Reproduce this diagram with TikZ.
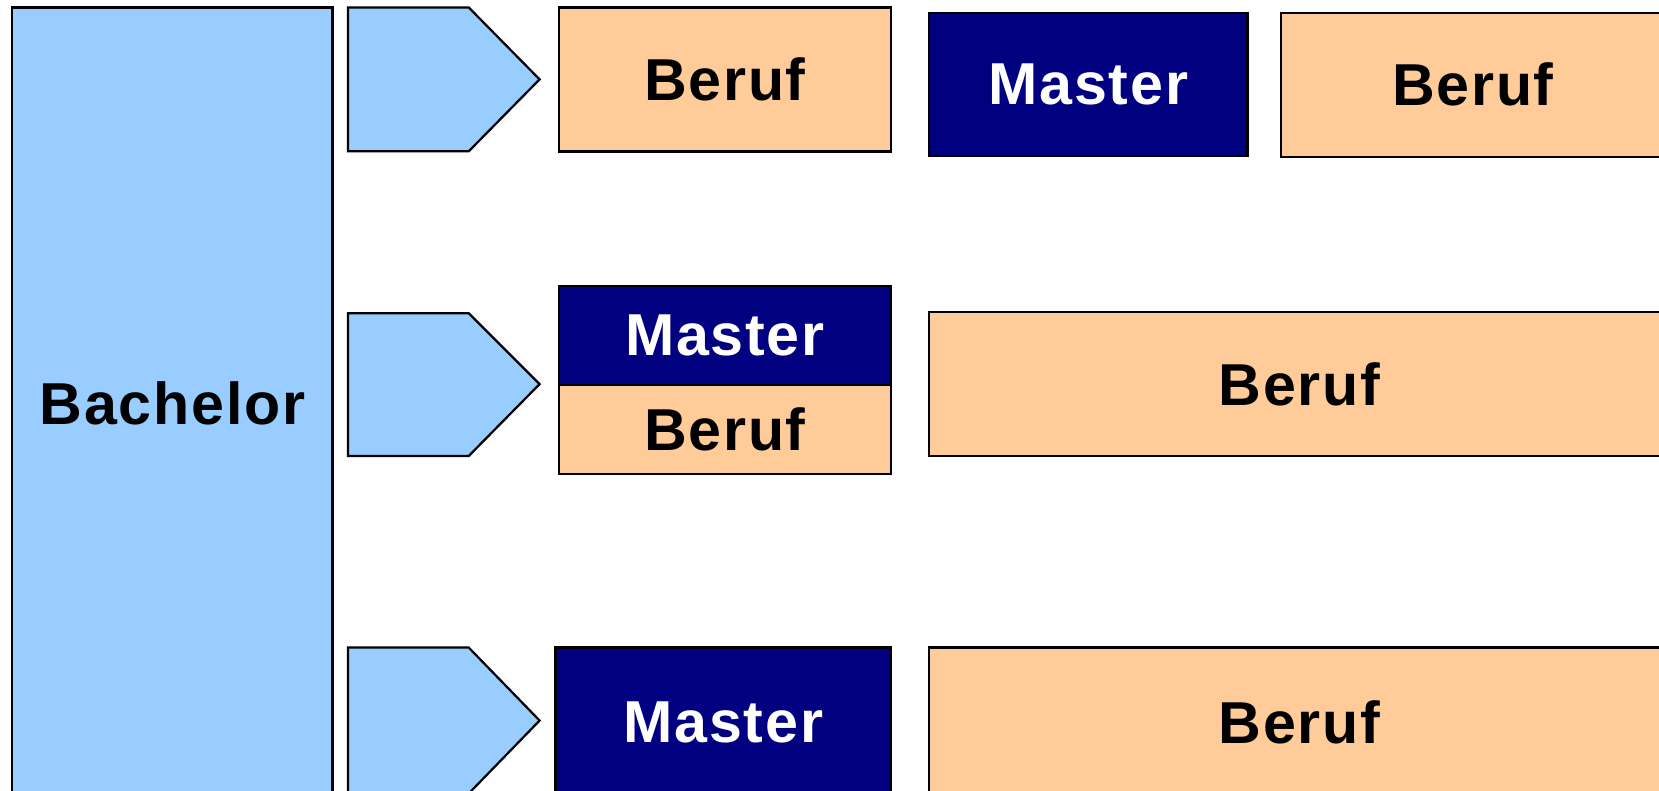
\documentclass[tikz,border=0pt]{standalone}
\usepackage{fontspec}
\setmainfont{Liberation Sans}[LetterSpace=3]
\definecolor{lblue}{HTML}{99CCFF}
\definecolor{peach}{HTML}{FFCC99}
\definecolor{navyc}{HTML}{000080}
\begin{document}
\begin{tikzpicture}[x=0.01cm,y=-0.01cm,
  lbl/.style={font=\fontsize{15.9pt}{18pt}\selectfont\bfseries},
  box/.style={lbl,draw=black,line width=0.6pt,inner sep=0pt,outer sep=0pt,anchor=north west},
  bachbox/.style={box,fill=lblue,text=black},
  berufbox/.style={box,fill=peach,text=black},
  masterbox/.style={box,fill=navyc,text=white},
  arrowshape/.style={draw=black,line width=0.6pt,fill=lblue,line join=miter}]
\useasboundingbox (0,0) rectangle (1568,747);
\clip (0,0) rectangle (1568,747);
% Bachelor
\node[bachbox,minimum width=3.03cm,minimum height=7.48cm] (bach) at (11,7) {};
\node[lbl] (bachtxt) at (163,381) {Bachelor};
% arrows
\draw[arrowshape] (329,7) -- (443,7) -- (510,75) -- (443,143) -- (329,143) -- cycle;
\draw[arrowshape] (329,296) -- (443,296) -- (510,363) -- (443,431) -- (329,431) -- cycle;
\draw[arrowshape] (329,612) -- (443,612) -- (510,681) -- (443,750) -- (329,750) -- cycle;
% row 1
\node[berufbox,minimum width=3.14cm,minimum height=1.36cm] (b1) at (528,7) {Beruf};
\node[masterbox,minimum width=3.01cm,minimum height=1.35cm] (m1) at (878,12) {Master};
\node[berufbox,minimum width=3.62cm,minimum height=1.36cm] (b1r) at (1211,12) {Beruf};
% row 2
\node[masterbox,minimum width=3.14cm,minimum height=0.94cm] (m2) at (528,270) {Master};
\node[berufbox,minimum width=3.14cm,minimum height=0.84cm] (b2) at (528,364) {Beruf};
\node[berufbox,minimum width=7.00cm,minimum height=1.36cm] (b2r) at (878,295) {Beruf};
% row 3
\node[masterbox,minimum width=3.17cm,minimum height=1.42cm] (m3) at (525,612) {Master};
\node[berufbox,minimum width=7.00cm,minimum height=1.42cm] (b3r) at (878,612) {Beruf};
\end{tikzpicture}
\end{document}
